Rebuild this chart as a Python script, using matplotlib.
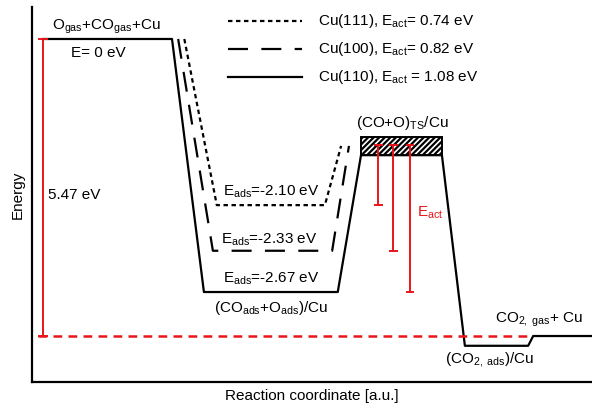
import matplotlib
matplotlib.use("Agg")
import matplotlib.pyplot as plt
from matplotlib.patches import Rectangle

plt.rcParams['font.family'] = ['Liberation Sans', 'DejaVu Sans']
plt.rcParams['mathtext.fontset'] = 'custom'
plt.rcParams['mathtext.rm'] = 'Liberation Sans'
plt.rcParams['mathtext.it'] = 'Liberation Sans:italic'
plt.rcParams['mathtext.bf'] = 'Liberation Sans:bold'
plt.rcParams['hatch.linewidth'] = 1.6

# ---- data (schematic diagram units) ----
surfaces = ["Cu(111)", "Cu(100)", "Cu(110)"]
e_act = [0.74, 0.82, 1.08]
e_ads = [-2.10, -2.33, -2.67]
e_total = 5.47

# schematic positions of each surface's path
x_drop_start = [27.2, 26.1, 25.0]
x_min_left = [33.0, 32.3, 30.7]
x_min_right = [52.3, 53.6, 54.6]
x_ts = [55.2, 56.6, 58.75]
y_min = [-3.06, -3.90, -4.66]
y_ts = [-1.97, -1.97, -2.14]

# shared levels
x_gas_start = 1.96
y_gas = 0.0
ts_box_x = [58.75, 73.2]
ts_box_y = [-2.14, -1.81]
x_co2ads = [77.3, 88.6]
y_co2ads = -5.65
x_co2gas = [89.5, 100.0]
y_co2gas = -5.47
x_eact_bars = [61.8, 64.5, 67.5]
y_eact_top = -1.95

styles = [(0, (2.0, 1.6)), (0, (9, 6)), '-']

fig = plt.figure(figsize=(5.92, 4.08), dpi=100)
ax = fig.add_axes([32/592, 26/408, 560/592, 375/408])
ax.set_xlim(0, 100)
ax.set_ylim(-6.317, 0.589)
for s in ['top', 'right']:
    ax.spines[s].set_visible(False)
for s in ['left', 'bottom']:
    ax.spines[s].set_linewidth(1.6)
ax.set_xticks([])
ax.set_yticks([])

lw = 1.6
red = '#e8151b'

# dotted and dashed paths (Cu(111), Cu(100))
for i in range(2):
    ax.plot([x_drop_start[i], x_min_left[i], x_min_right[i], x_ts[i]],
            [y_gas, y_min[i], y_min[i], y_ts[i]],
            color='black', lw=lw, linestyle=styles[i], solid_capstyle='butt')

# solid path Cu(110) including shared levels
sx = [x_gas_start, x_drop_start[2], x_min_left[2], x_min_right[2], x_ts[2],
      ts_box_x[1], x_co2ads[0], x_co2ads[1], x_co2gas[0], x_co2gas[1]]
sy = [y_gas, y_gas, y_min[2], y_min[2], y_ts[2],
      ts_box_y[0], y_co2ads, y_co2ads, y_co2gas, y_co2gas]
ax.plot(sx, sy, color='black', lw=lw, linestyle='-')

# TS hatched box
ax.add_patch(Rectangle((ts_box_x[0], ts_box_y[0]), ts_box_x[1]-ts_box_x[0],
                       ts_box_y[1]-ts_box_y[0], facecolor='white',
                       edgecolor='black', hatch='//////', lw=1.4, zorder=3))

# red 5.47 eV bar
cap = 0.9
ax.vlines(x_gas_start, -e_total, y_gas, color=red, lw=1.4, zorder=4)
ax.hlines([y_gas, -e_total], x_gas_start - cap, x_gas_start + cap, color=red, lw=1.4, zorder=4)
ax.plot([1.07, x_co2ads[1]], [-e_total, -e_total], color=red, lw=1.8,
        linestyle=(0, (3.5, 2.5)), zorder=2)

# Eact bars
cap2 = 0.8
for xb, yb in zip(x_eact_bars, y_min):
    ax.vlines(xb, yb, y_eact_top, color=red, lw=1.4, zorder=5)
    ax.hlines([y_eact_top, yb], xb - cap2, xb + cap2, color=red, lw=1.4, zorder=5)

fs = 11
# legend
leg_x = [35.0, 48.2]
leg_y = [0.33, -0.18, -0.70]
for i in range(3):
    ax.plot(leg_x, [leg_y[i]]*2, color='black', lw=lw, linestyle=styles[i])
    sp = ' ' if i == 2 else ''
    ax.text(51.1, leg_y[i], surfaces[i] + r', E$_{\mathrm{act}}$' + sp + f'= {e_act[i]:.2f} eV',
            fontsize=fs, va='center', ha='left')

# labels
ax.text(13.2, 0.22, r'O$_{\mathrm{gas}}$+CO$_{\mathrm{gas}}$+Cu', fontsize=fs, ha='center', va='center')
ax.text(11.8, -0.26, 'E= 0 eV', fontsize=fs, ha='center', va='center')
ax.text(2.86, -2.87, f'{e_total:.2f} eV', fontsize=fs, ha='left', va='center')
eads_pos = [(42.7, -2.82), (42.3, -3.70), (42.7, -4.42)]
for (tx, ty), e in zip(eads_pos, e_ads):
    ax.text(tx, ty, r'E$_{\mathrm{ads}}$' + f'={e:.2f} eV', fontsize=fs, ha='center', va='center')
ax.text(42.7, -4.95, r'(CO$_{\mathrm{ads}}$+O$_{\mathrm{ads}}$)/Cu', fontsize=fs, ha='center', va='center')
ax.text(66.1, -1.55, r'(CO+O)$_{\mathrm{TS}}$/Cu', fontsize=fs, ha='center', va='center')
ax.text(68.75, -3.20, r'E$_{\mathrm{act}}$', fontsize=fs, ha='left', va='center', color=red)
ax.text(90.5, -5.17, r'CO$_{\mathrm{2,\ gas}}$+ Cu', fontsize=fs, ha='center', va='center')
ax.text(81.8, -5.91, r'(CO$_{\mathrm{2,\ ads}}$)/Cu', fontsize=fs, ha='center', va='center')

ax.set_xlabel('Reaction coordinate [a.u.]', fontsize=fs, labelpad=5)
ax.set_ylabel('Energy', fontsize=fs, labelpad=5)

fig.savefig('out.png', dpi=100)
